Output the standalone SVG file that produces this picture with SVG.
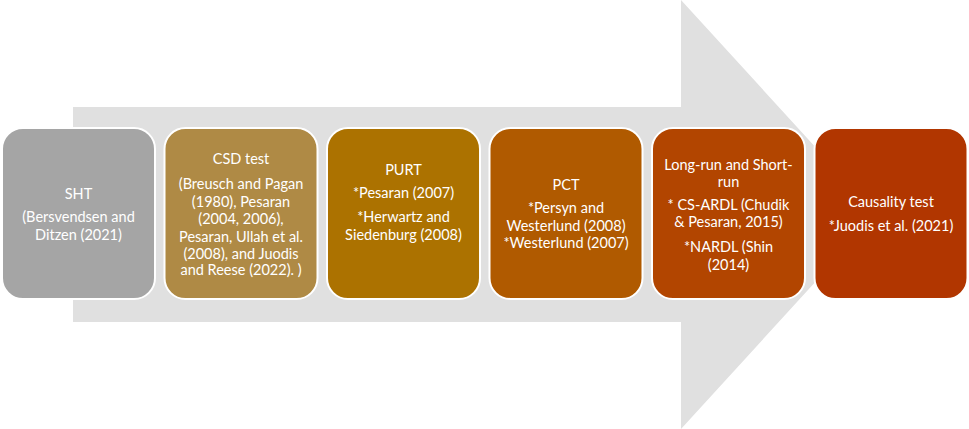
<svg xmlns="http://www.w3.org/2000/svg" width="969" height="429" viewBox="0 0 969 429">
<style>
.box{stroke:#ffffff;stroke-width:2}
.t{font-family:Lato,"Open Sans","Liberation Sans",sans-serif;font-size:14.5px;fill:#ffffff;text-anchor:middle}
</style>
<rect x="0" y="0" width="969" height="429" fill="#ffffff"/>
<g id="connectors">
<polygon points="73,107 681,107 681,0 877,214.5 681,429 681,322 73,322" fill="#e0e0e0"/>
</g>
<g id="n1">
<rect class="box" x="2" y="128" width="153" height="171" rx="21" fill="#a5a5a5"/>
<text class="t" x="78.5" y="199">SHT</text>
<text class="t" x="78.5" y="222">(Bersvendsen and</text>
<text class="t" x="78.5" y="240">Ditzen (2021)</text>
</g>
<g id="n2">
<rect class="box" x="164.5" y="128" width="153" height="171" rx="21" fill="#af8a45"/>
<text class="t" x="241" y="164">CSD test</text>
<text class="t" x="241" y="189">(Breusch and Pagan</text>
<text class="t" x="241" y="207">(1980), Pesaran</text>
<text class="t" x="241" y="224">(2004, 2006),</text>
<text class="t" x="241" y="242">Pesaran, Ullah et al.</text>
<text class="t" x="241" y="259">(2008), and Juodis</text>
<text class="t" x="241" y="275">and Reese (2022). )</text>
</g>
<g id="n3">
<rect class="box" x="327" y="128" width="153" height="171" rx="21" fill="#ac7200"/>
<text class="t" x="403.5" y="175">PURT</text>
<text class="t" x="403.5" y="198">*Pesaran (2007)</text>
<text class="t" x="403.5" y="222">*Herwartz and</text>
<text class="t" x="403.5" y="240">Siedenburg (2008)</text>
</g>
<g id="n4">
<rect class="box" x="489.5" y="128" width="153" height="171" rx="21" fill="#b05a00"/>
<text class="t" x="566" y="190">PCT</text>
<text class="t" x="566" y="213">*Persyn and</text>
<text class="t" x="566" y="231">Westerlund (2008)</text>
<text class="t" x="566" y="248">*Westerlund (2007)</text>
</g>
<g id="n5">
<rect class="box" x="652" y="128" width="153" height="171" rx="21" fill="#b24500"/>
<text class="t" x="728.5" y="170">Long-run and Short-</text>
<text class="t" x="728.5" y="187">run</text>
<text class="t" x="728.5" y="210">* CS-ARDL (Chudik</text>
<text class="t" x="728.5" y="227">&amp; Pesaran, 2015)</text>
<text class="t" x="728.5" y="252">*NARDL (Shin</text>
<text class="t" x="728.5" y="270">(2014)</text>
</g>
<g id="n6">
<rect class="box" x="814.5" y="128" width="153" height="171" rx="21" fill="#b13600"/>
<text class="t" x="891" y="207">Causality test</text>
<text class="t" x="891" y="231">*Juodis et al. (2021)</text>
</g>
</svg>
